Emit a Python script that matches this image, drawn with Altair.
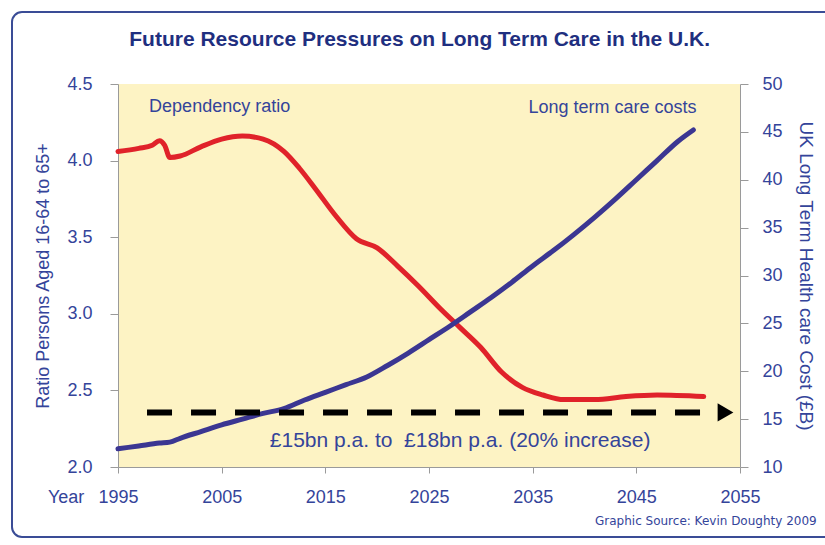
import altair as alt
import pandas as pd

# ---------------- data ----------------
ratio_years = [1995, 1997, 1998.3, 1999, 1999.5, 2000, 2001, 2003, 2005, 2007, 2009, 2011,
               2012.5, 2014, 2016, 2018, 2020, 2022, 2024, 2026, 2028, 2030, 2032, 2034,
               2036, 2038, 2041, 2044, 2047, 2051.5]
ratio_values = [4.06, 4.08, 4.10, 4.13, 4.10, 4.02, 4.03, 4.09, 4.14, 4.16, 4.14, 4.06,
                3.95, 3.82, 3.64, 3.49, 3.43, 3.31, 3.18, 3.04, 2.91, 2.78, 2.62, 2.52,
                2.47, 2.44, 2.44, 2.46, 2.47, 2.46]

cost_years = [1995, 1997, 1999, 2000, 2001, 2003, 2005, 2007, 2009, 2011, 2013, 2015, 2017,
              2019, 2021, 2023, 2025, 2027, 2029, 2031, 2033, 2035, 2037, 2039, 2041, 2043,
              2045, 2047, 2049, 2050.5]
cost_values = [11.9, 12.2, 12.5, 12.6, 13.0, 13.7, 14.4, 15.0, 15.6, 16.1, 17.0, 17.8, 18.6,
               19.4, 20.6, 21.9, 23.3, 24.7, 26.2, 27.7, 29.3, 31.0, 32.6, 34.3, 36.1, 38.0,
               40.0, 42.0, 44.0, 45.2]

arrow_start_year = 1997.8
arrow_end_year = 2052.4
arrow_tip_year = 2053.6
arrow_cost = 15.7

x_ticks = [1995, 2005, 2015, 2025, 2035, 2045, 2055]
ratio_ticks = [2.0, 2.5, 3.0, 3.5, 4.0, 4.5]
cost_ticks = [10, 15, 20, 25, 30, 35, 40, 45, 50]

title_text = "Future Resource Pressures on Long Term Care in the U.K."
left_title = "Ratio Persons Aged 16-64 to 65+"
right_title = "UK Long Term Health care Cost (£B)"

title_label = pd.DataFrame({"year": [2024.1], "ratio": [4.787], "text": [title_text]})
dep_label = pd.DataFrame({"year": [1998.0], "ratio": [4.35], "text": ["Dependency ratio"]})
year_label = pd.DataFrame({"year": [1990.0], "ratio": [1.80], "text": ["Year"]})
src_label = pd.DataFrame({"year": [2062.4], "ratio": [1.65], "text": ["Graphic Source: Kevin Doughty 2009"]})
cost_label = pd.DataFrame({"year": [2050.8], "cost": [47.5], "text": ["Long term care costs"]})
note_label = pd.DataFrame({"year": [2028.0], "cost": [12.7],
                           "text": ["£15bn p.a. to \u00a0£18bn p.a. (20% increase)"]})

# ---------------- styles ----------------
NAVY = "#34449a"
TITLE_NAVY = "#1f2f80"
RED = "#e0222a"
BLUE = "#3b3692"
GREY = "#9a9a9a"
FONT = "Liberation Sans"

df_ratio = pd.DataFrame({"year": ratio_years, "ratio": ratio_values})
df_cost = pd.DataFrame({"year": cost_years, "cost": cost_values})
df_arrow = pd.DataFrame({"year": [arrow_start_year], "year_end": [arrow_end_year], "cost": [arrow_cost]})
df_tip = pd.DataFrame({"year": [arrow_tip_year], "cost": [arrow_cost]})

xscale = alt.Scale(domain=[1995, 2055], nice=False, zero=False)
xaxis = alt.Axis(values=x_ticks, format="d", title=None, grid=False, labelFlush=False,
                 labelFontSize=18, labelColor=NAVY, labelFont=FONT,
                 tickColor=GREY, domainColor=GREY, tickSize=6, labelPadding=15)

rscale = alt.Scale(domain=[2.0, 4.5], nice=False, zero=False)
raxis = alt.Axis(values=ratio_ticks, format=".1f", orient="left", title=left_title, grid=False,
                 labelFontSize=18, labelColor=NAVY, labelFont=FONT,
                 titleFontSize=18, titleFontWeight="normal", titleColor=NAVY, titleFont=FONT,
                 titlePadding=14, tickColor=GREY, domainColor=GREY, tickSize=8, labelPadding=18)

cscale = alt.Scale(domain=[10, 50], nice=False, zero=False)
caxis = alt.Axis(values=cost_ticks, format="d", orient="right", title=right_title, grid=False,
                 labelFontSize=18, labelColor=NAVY, labelFont=FONT,
                 titleFontSize=19, titleFontWeight="normal", titleColor=NAVY, titleFont=FONT,
                 titlePadding=13, tickColor=GREY, domainColor=GREY, tickSize=8, labelPadding=14)

X = alt.X("year:Q", scale=xscale, axis=xaxis)
YR = alt.Y("ratio:Q", scale=rscale, axis=raxis)
YC = alt.Y("cost:Q", scale=cscale, axis=caxis)

frame = alt.Chart(pd.DataFrame({"a": [0]})).mark_rect(
    fill=None, stroke="#3a4c96", strokeWidth=2, cornerRadius=10
).encode(x=alt.value(-106), x2=alt.value(730), y=alt.value(-72), y2=alt.value(453))

red_line = alt.Chart(df_ratio).mark_line(
    color=RED, strokeWidth=5, interpolate="monotone", strokeCap="round"
).encode(x=X, y=YR)

lbl_title = alt.Chart(title_label).mark_text(
    align="center", baseline="middle", fontSize=21, font=FONT, fontWeight="bold", color=TITLE_NAVY
).encode(x=X, y=YR, text="text:N")
lbl_dep = alt.Chart(dep_label).mark_text(
    align="left", baseline="middle", fontSize=18, font=FONT, color=NAVY
).encode(x=X, y=YR, text="text:N")
lbl_year = alt.Chart(year_label).mark_text(
    align="center", baseline="middle", fontSize=18, font=FONT, color=NAVY
).encode(x=X, y=YR, text="text:N")
lbl_src = alt.Chart(src_label).mark_text(
    align="right", baseline="middle", fontSize=12, font="DejaVu Sans", color=NAVY
).encode(x=X, y=YR, text="text:N")

ratio_group = alt.layer(frame, red_line, lbl_title, lbl_dep, lbl_year, lbl_src)

blue_line = alt.Chart(df_cost).mark_line(
    color=BLUE, strokeWidth=5, interpolate="monotone", strokeCap="round"
).encode(x=X, y=YC)

dash = alt.Chart(df_arrow).mark_rule(
    color="black", strokeWidth=6, strokeDash=[25, 19]
).encode(x=X, x2="year_end:Q", y=YC)

tip = alt.Chart(df_tip).mark_point(
    shape="triangle-right", filled=True, color="black", size=330, opacity=1
).encode(x=X, y=YC)

lbl_cost = alt.Chart(cost_label).mark_text(
    align="right", baseline="middle", fontSize=18, font=FONT, color=NAVY
).encode(x=X, y=YC, text="text:N")
lbl_note = alt.Chart(note_label).mark_text(
    align="center", baseline="middle", fontSize=21, font=FONT, color=NAVY
).encode(x=X, y=YC, text="text:N")

cost_group = alt.layer(blue_line, dash, tip, lbl_cost, lbl_note)

chart = alt.layer(ratio_group, cost_group).resolve_scale(y="independent").properties(
    width=622, height=383,
    autosize=alt.AutoSizeParams(type="none"),
    padding={"left": 118, "top": 84, "right": 85, "bottom": 78},
    background="white",
).configure_view(fill="#fdf3c4", stroke=None)

chart.save("out.html", embed_options={"renderer": "svg", "actions": False})
